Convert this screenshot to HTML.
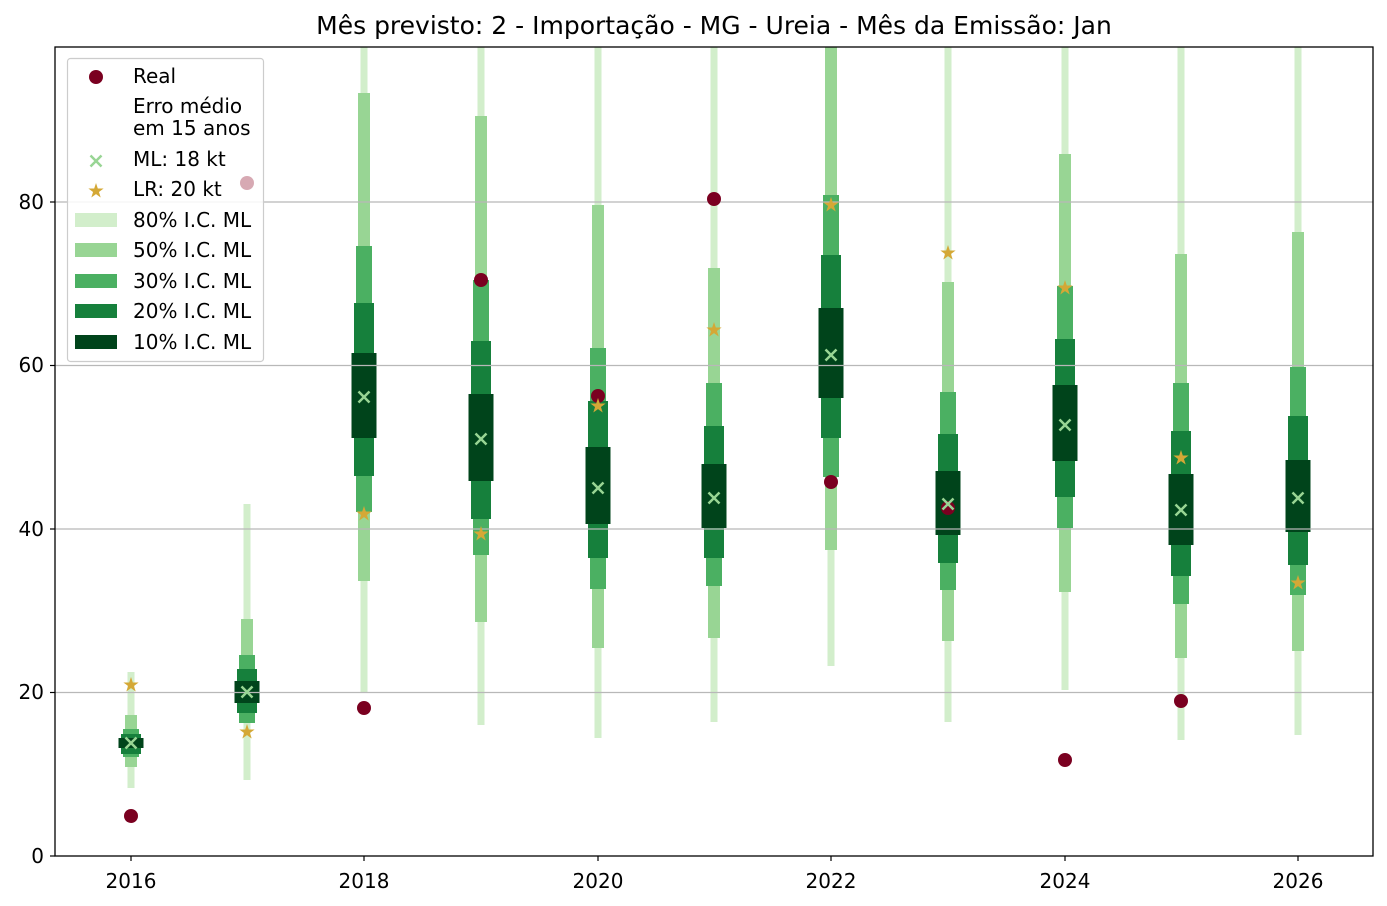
<!DOCTYPE html>
<html><head><meta charset="utf-8"><style>
body{margin:0;background:#fff}
svg{display:block;font-family:"DejaVu Sans","Liberation Sans",sans-serif}
</style></head><body>
<svg width="1387" height="906" viewBox="0 0 1387 906" xmlns="http://www.w3.org/2000/svg">
<defs>
<polygon id="st" points="0,-8 1.82,-2.51 7.61,-2.47 2.95,0.96 4.70,6.47 0,3.1 -4.70,6.47 -2.95,0.96 -7.61,-2.47 -1.82,-2.51" fill="#d4a836"/>
<path id="xm" d="M-5.5,-5.5L5.5,5.5M-5.5,5.5L5.5,-5.5" stroke="#98d594" stroke-width="2.5" fill="none"/>
</defs>
<rect width="1387" height="906" fill="#fff"/>
<text x="714" y="34" font-size="25" text-anchor="middle" fill="#000">Mês previsto: 2 - Importação - MG - Ureia - Mês da Emissão: Jan</text>
<g>
<rect x="127.5" y="672" width="7" height="116" fill="#d2eecb"/>
<rect x="125" y="715" width="12" height="52" fill="#98d594"/>
<rect x="123" y="729" width="16" height="28" fill="#4bb062"/>
<rect x="121" y="734" width="20" height="20" fill="#16803c"/>
<rect x="118.5" y="738" width="25" height="10" fill="#00441b"/>
<rect x="243.5" y="504" width="7" height="276" fill="#d2eecb"/>
<rect x="241" y="619" width="12" height="96" fill="#98d594"/>
<rect x="239" y="655" width="16" height="68" fill="#4bb062"/>
<rect x="237" y="669" width="20" height="44" fill="#16803c"/>
<rect x="234.5" y="681" width="25" height="22" fill="#00441b"/>
<rect x="360.5" y="47" width="7" height="645" fill="#d2eecb"/>
<rect x="358" y="93" width="12" height="488" fill="#98d594"/>
<rect x="356" y="246" width="16" height="266" fill="#4bb062"/>
<rect x="354" y="303" width="20" height="173" fill="#16803c"/>
<rect x="351.5" y="353" width="25" height="85" fill="#00441b"/>
<rect x="477.5" y="47" width="7" height="678" fill="#d2eecb"/>
<rect x="475" y="116" width="12" height="506" fill="#98d594"/>
<rect x="473" y="280" width="16" height="275" fill="#4bb062"/>
<rect x="471" y="341" width="20" height="178" fill="#16803c"/>
<rect x="468.5" y="394" width="25" height="87" fill="#00441b"/>
<rect x="594.5" y="47" width="7" height="691" fill="#d2eecb"/>
<rect x="592" y="205" width="12" height="443" fill="#98d594"/>
<rect x="590" y="348" width="16" height="241" fill="#4bb062"/>
<rect x="588" y="401" width="20" height="157" fill="#16803c"/>
<rect x="585.5" y="447" width="25" height="77" fill="#00441b"/>
<rect x="710.5" y="47" width="7" height="675" fill="#d2eecb"/>
<rect x="708" y="268" width="12" height="370" fill="#98d594"/>
<rect x="706" y="383" width="16" height="203" fill="#4bb062"/>
<rect x="704" y="426" width="20" height="132" fill="#16803c"/>
<rect x="701.5" y="464" width="25" height="64" fill="#00441b"/>
<rect x="827.5" y="47" width="7" height="619" fill="#d2eecb"/>
<rect x="825" y="47" width="12" height="503" fill="#98d594"/>
<rect x="823" y="195" width="16" height="282" fill="#4bb062"/>
<rect x="821" y="255" width="20" height="183" fill="#16803c"/>
<rect x="818.5" y="308" width="25" height="90" fill="#00441b"/>
<rect x="944.5" y="47" width="7" height="675" fill="#d2eecb"/>
<rect x="942" y="282" width="12" height="359" fill="#98d594"/>
<rect x="940" y="392" width="16" height="198" fill="#4bb062"/>
<rect x="938" y="434" width="20" height="129" fill="#16803c"/>
<rect x="935.5" y="471" width="25" height="64" fill="#00441b"/>
<rect x="1061.5" y="47" width="7" height="643" fill="#d2eecb"/>
<rect x="1059" y="154" width="12" height="438" fill="#98d594"/>
<rect x="1057" y="286" width="16" height="242" fill="#4bb062"/>
<rect x="1055" y="339" width="20" height="158" fill="#16803c"/>
<rect x="1052.5" y="385" width="25" height="76" fill="#00441b"/>
<rect x="1177.5" y="47" width="7" height="693" fill="#d2eecb"/>
<rect x="1175" y="254" width="12" height="404" fill="#98d594"/>
<rect x="1173" y="383" width="16" height="221" fill="#4bb062"/>
<rect x="1171" y="431" width="20" height="145" fill="#16803c"/>
<rect x="1168.5" y="474" width="25" height="71" fill="#00441b"/>
<rect x="1294.5" y="47" width="7" height="688" fill="#d2eecb"/>
<rect x="1292" y="232" width="12" height="419" fill="#98d594"/>
<rect x="1290" y="367" width="16" height="228" fill="#4bb062"/>
<rect x="1288" y="416" width="20" height="149" fill="#16803c"/>
<rect x="1285.5" y="460" width="25" height="72" fill="#00441b"/>
</g>
<g stroke="#b8b8b8" stroke-width="1.3">
<line x1="55" x2="1373" y1="692.5" y2="692.5"/>
<line x1="55" x2="1373" y1="529" y2="529"/>
<line x1="55" x2="1373" y1="365.5" y2="365.5"/>
<line x1="55" x2="1373" y1="202" y2="202"/>
</g>
<g fill="#7a0020">
<circle cx="131" cy="816" r="7"/>
<circle cx="364" cy="708" r="7"/>
<circle cx="481" cy="280" r="7"/>
<circle cx="598" cy="396" r="7"/>
<circle cx="714" cy="199" r="7"/>
<circle cx="831" cy="482" r="7"/>
<circle cx="948" cy="508" r="7"/>
<circle cx="1065" cy="760" r="7"/>
<circle cx="1181" cy="701" r="7"/>
</g>
<use href="#xm" x="131" y="743"/>
<use href="#xm" x="247" y="692"/>
<use href="#xm" x="364" y="397"/>
<use href="#xm" x="481" y="439"/>
<use href="#xm" x="598" y="488"/>
<use href="#xm" x="714" y="498"/>
<use href="#xm" x="831" y="355"/>
<use href="#xm" x="948" y="504"/>
<use href="#xm" x="1065" y="425"/>
<use href="#xm" x="1181" y="510"/>
<use href="#xm" x="1298" y="498"/>
<use href="#st" x="131" y="685"/>
<use href="#st" x="247" y="732"/>
<use href="#st" x="364" y="514"/>
<use href="#st" x="481" y="534"/>
<use href="#st" x="598" y="406"/>
<use href="#st" x="714" y="330"/>
<use href="#st" x="831" y="205"/>
<use href="#st" x="948" y="253"/>
<use href="#st" x="1065" y="288"/>
<use href="#st" x="1181" y="458"/>
<use href="#st" x="1298" y="583"/>
<rect x="55" y="47" width="1318" height="809" fill="none" stroke="#000" stroke-width="1.3"/>
<g stroke="#000" stroke-width="1.2">
<line x1="50" x2="55" y1="856" y2="856"/><line x1="50" x2="55" y1="692.5" y2="692.5"/>
<line x1="50" x2="55" y1="529" y2="529"/><line x1="50" x2="55" y1="365.5" y2="365.5"/>
<line x1="50" x2="55" y1="202" y2="202"/>
<line x1="131" x2="131" y1="856" y2="861"/><line x1="364" x2="364" y1="856" y2="861"/>
<line x1="598" x2="598" y1="856" y2="861"/><line x1="831" x2="831" y1="856" y2="861"/>
<line x1="1065" x2="1065" y1="856" y2="861"/><line x1="1298" x2="1298" y1="856" y2="861"/>
</g>
<g font-size="20" fill="#000" text-anchor="end">
<text x="44" y="863">0</text><text x="44" y="699">20</text><text x="44" y="536">40</text>
<text x="44" y="372">60</text><text x="44" y="209">80</text>
</g>
<g font-size="20" fill="#000" text-anchor="middle">
<text x="131" y="888">2016</text><text x="364" y="888">2018</text><text x="598" y="888">2020</text>
<text x="831" y="888">2022</text><text x="1065" y="888">2024</text><text x="1298" y="888">2026</text>
</g>
<rect x="67.5" y="58.5" width="196" height="303" rx="3" fill="#fff" fill-opacity="0.85" stroke="#cccccc" stroke-width="1.2"/>
<circle cx="247" cy="183" r="7" fill="#d7a9b3"/>
<circle cx="96" cy="77" r="7" fill="#7a0020"/>
<use href="#xm" x="96" y="161"/>
<use href="#st" x="96" y="191"/>
<rect x="75" y="213" width="42" height="14" fill="#d2eecb"/>
<rect x="75" y="243" width="42" height="14" fill="#98d594"/>
<rect x="75" y="274" width="42" height="14" fill="#4bb062"/>
<rect x="75" y="304" width="42" height="14" fill="#16803c"/>
<rect x="75" y="335" width="42" height="14" fill="#00441b"/>
<g font-size="20" fill="#000">
<text x="133" y="83">Real</text>
<text x="133" y="113">Erro médio</text>
<text x="133" y="135">em 15 anos</text>
<text x="133" y="166">ML: 18 kt</text>
<text x="133" y="196">LR: 20 kt</text>
<text x="133" y="227">80% I.C. ML</text>
<text x="133" y="257">50% I.C. ML</text>
<text x="133" y="288">30% I.C. ML</text>
<text x="133" y="318">20% I.C. ML</text>
<text x="133" y="349">10% I.C. ML</text>
</g>
</svg>
</body></html>
